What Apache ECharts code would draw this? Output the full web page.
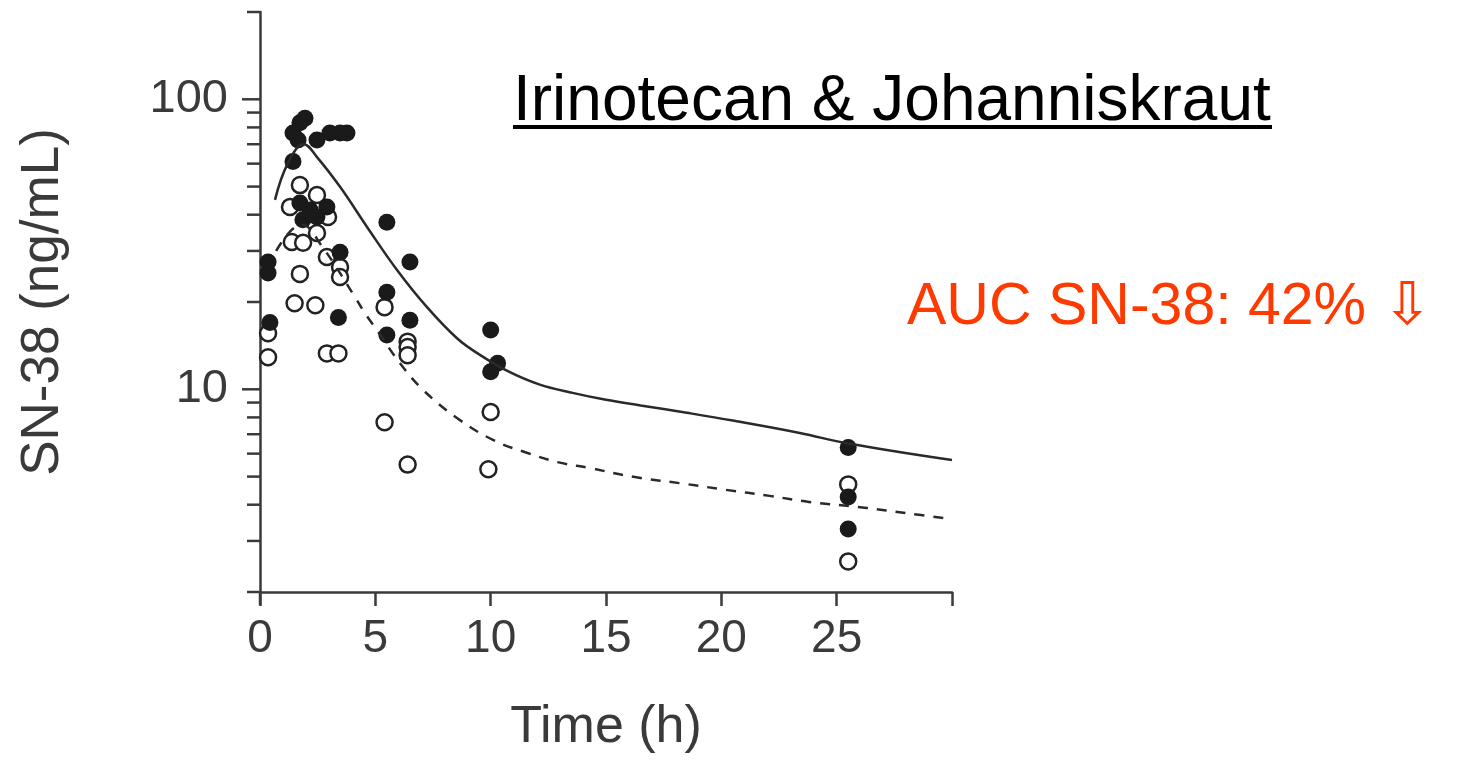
<!DOCTYPE html>
<html>
<head>
<meta charset="UTF-8">
<title>Irinotecan & Johanniskraut</title>
<script src="https://cdn.jsdelivr.net/npm/echarts@6/dist/echarts.min.js"></script>
<style>
html,body{margin:0;padding:0;background:#fff;}
#chart{width:1472px;height:760px;}
</style>
</head>
<body>
<div id="chart"></div>
<script>
// filled circles (time h, SN-38 ng/mL)
var filledT = [1.43, 1.73, 1.95, 1.65, 2.47, 3.03, 3.47, 3.77, 1.43, 1.73, 2.17, 2.9, 1.86, 2.47, 5.5, 3.47, 6.5, 0.35, 0.35, 5.5, 3.4, 6.5, 0.43, 10, 5.5, 10.3, 10, 25.5, 25.5, 25.5];
var filledV = [76.5, 83, 86, 72.4, 72.4, 76.5, 76.5, 76.5, 61, 43.9, 41.5, 42.5, 38.4, 39.3, 37.7, 29.7, 27.5, 27.5, 25.2, 21.6, 17.7, 17.3, 17, 16, 15.4, 12.3, 11.5, 6.3, 4.25, 3.3];
// open circles
var openT = [1.73, 2.47, 1.3, 2.95, 2.47, 1.38, 1.87, 2.9, 3.47, 3.47, 1.73, 1.5, 2.4, 0.35, 0.35, 2.9, 3.4, 5.4, 6.4, 6.4, 6.4, 5.4, 6.4, 10, 9.9, 25.5, 25.5];
var openV = [50.6, 46.8, 42.5, 39.3, 34.6, 32.2, 32, 28.6, 26.4, 24.4, 25, 19.8, 19.5, 15.6, 12.9, 13.3, 13.3, 19.2, 14.6, 14, 13.1, 7.7, 5.5, 8.35, 5.3, 4.7, 2.55];
// fitted curves
var solidT = [0.65, 1.2, 1.9, 2.47, 3.47, 4.64, 5.94, 7.24, 8.54, 9.5, 10.7, 12.1, 13.6, 15.0, 16.5, 18.5, 20.5, 23.4, 25.5, 30];
var solidV = [45, 60, 70, 63.2, 49.9, 36.3, 25.8, 19.2, 15.0, 13.2, 11.6, 10.4, 9.7, 9.2, 8.8, 8.3, 7.8, 7.07, 6.5, 5.7];
var dashT = [0.7, 1.3, 1.8, 2.7, 4.12, 4.55, 5.07, 6.07, 7.07, 8.54, 10.1, 11.6, 12.9, 14.3, 16.2, 18.5, 20.2, 22.1, 23.8, 26.3, 28.0, 30];
var dashV = [30, 35, 37, 31, 20.8, 18.3, 16, 12.3, 9.95, 7.96, 6.69, 6.03, 5.61, 5.35, 4.99, 4.71, 4.5, 4.29, 4.09, 3.9, 3.74, 3.57];
// y axis ticks (log)
var yTicks = [2, 3, 4, 5, 6, 7, 8, 9, 10, 20, 30, 40, 50, 60, 70, 80, 90, 100, 200];
var yMajor = [10, 100];

function pairs(a, b) {
    var out = [];
    for (var i = 0; i < a.length; i++) out.push([a[i], b[i]]);
    return out;
}

var font = "'Liberation Sans', Arial, 'DejaVu Sans', sans-serif";
var grey = '#3a3a3a';
var axisCol = '#3a3a3a';

var myChart = echarts.init(document.getElementById('chart'));
var option = {
    backgroundColor: '#fff',
    animation: false,
    grid: { left: 260, right: 520, top: 12, bottom: 168 },
    xAxis: {
        type: 'value',
        min: 0, max: 30, interval: 5,
        name: 'Time (h)',
        nameLocation: 'middle',
        nameGap: 110,
        nameTextStyle: { fontFamily: font, fontSize: 52, color: grey },
        axisLine: { lineStyle: { color: axisCol, width: 2.5 } },
        axisTick: { show: true, inside: false, length: 14, lineStyle: { color: axisCol, width: 2.5 } },
        axisLabel: {
            fontFamily: font, fontSize: 46, color: grey, margin: 24,
            formatter: function (v) { return v === 30 ? '' : String(v); }
        },
        splitLine: { show: false }
    },
    yAxis: {
        type: 'log',
        logBase: 10,
        min: 2, max: 200,
        name: 'SN-38 (ng/mL)',
        nameLocation: 'middle',
        nameRotate: 90,
        nameGap: 190,
        nameTextStyle: { fontFamily: font, fontSize: 53, color: grey },
        axisLine: { lineStyle: { color: axisCol, width: 2.5 } },
        axisTick: { show: false },
        axisLabel: {
            fontFamily: font, fontSize: 47, color: grey, margin: 32,
            formatter: function (v) { return (v === 10 || v === 100) ? String(v) : ''; }
        },
        splitLine: { show: false }
    },
    graphic: [
        {
            type: 'text', left: 513, top: 70,
            style: { text: 'Irinotecan & Johanniskraut', fontFamily: font, fontSize: 64, fill: '#000' }
        },
        {
            type: 'rect', left: 513, top: 125,
            shape: { width: 759, height: 4 },
            style: { fill: '#000' }
        },
        {
            type: 'text', left: 907, top: 278,
            style: { text: 'AUC SN-38: 42% \u21E9', fontFamily: font, fontSize: 59, fill: '#ff3a00' }
        }
    ],
    series: [
        {
            name: 'y ticks',
            type: 'custom',
            clip: false,
            silent: true,
            data: yTicks.map(function (v) { return [0, v]; }),
            renderItem: function (params, api) {
                var v = api.value(1);
                var p = api.coord([0, v]);
                var len = yMajor.indexOf(v) >= 0 ? 18 : 13;
                var st = { stroke: axisCol, lineWidth: 2.5 };
                var kids = [{ type: 'line', shape: { x1: p[0] - len, y1: p[1], x2: p[0], y2: p[1] }, style: st }];
                if (v === yTicks[0]) {
                    // axis line runs a little past the origin
                    kids.push({ type: 'line', shape: { x1: p[0], y1: p[1], x2: p[0], y2: p[1] + 13 }, style: st });
                }
                return { type: 'group', children: kids };
            }
        },
        {
            name: 'fit solid',
            type: 'line',
            data: pairs(solidT, solidV),
            smooth: 0.4,
            showSymbol: false,
            lineStyle: { color: '#2a2a2a', width: 2.5 }
        },
        {
            name: 'fit dashed',
            type: 'line',
            data: pairs(dashT, dashV),
            smooth: 0.4,
            showSymbol: false,
            lineStyle: { color: '#2a2a2a', width: 2.5, type: [10, 9] }
        },
        {
            name: 'open',
            type: 'scatter',
            data: pairs(openT, openV),
            symbol: 'circle',
            symbolSize: 16,
            itemStyle: { color: '#fff', borderColor: '#222', borderWidth: 2.5, opacity: 1 }
        },
        {
            name: 'filled',
            type: 'scatter',
            data: pairs(filledT, filledV),
            symbol: 'circle',
            symbolSize: 17,
            itemStyle: { color: '#1a1a1a', opacity: 1 }
        }
    ]
};
myChart.setOption(option);
</script>
</body>
</html>
